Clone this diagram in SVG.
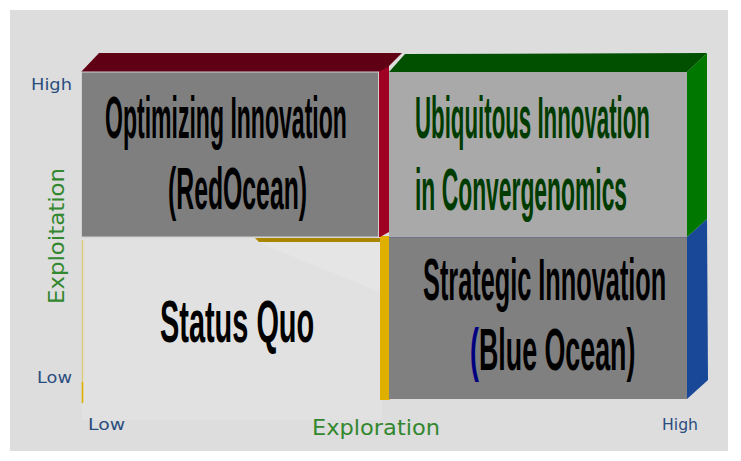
<svg xmlns="http://www.w3.org/2000/svg" width="741" height="461" viewBox="0 0 741 461">
  <style>
    .big { font-family: "Liberation Sans", Arial, sans-serif; font-weight: bold; font-size: 60px; fill: #000; }
    .green { fill: #003c00; }
    .axis { font-family: "DejaVu Sans", Verdana, sans-serif; font-size: 15px; fill: #2b4d7e; }
    .title { font-family: "DejaVu Sans", Verdana, sans-serif; font-size: 21px; fill: #33872f; }
    .face { stroke: #d2d2d2; stroke-width: 1; }
  </style>

  <!-- backdrop -->
  <rect x="0" y="0" width="741" height="461" fill="#ffffff"/>
  <rect x="10" y="10" width="718" height="441" fill="#dddddd"/>

  <!-- Status Quo: low exploitation / low exploration -->
  <g id="status-quo">
    <rect x="82" y="238" width="300" height="182" fill="#e1e1e1"/>
    <polygon points="255,241 380,241 380,292" fill="#e5e5e5"/>
    <line x1="82.5" y1="240" x2="82.5" y2="403" stroke="#e0b000" stroke-width="1.5" opacity="0.45"/>
    <line x1="82.5" y1="382" x2="82.5" y2="403" stroke="#e0b000" stroke-width="1.5"/>
    <polygon points="255,238 380,238 380,242 259,242" fill="#a88600"/>
    <rect x="380" y="236" width="10" height="164" fill="#e0b000"/>
    <text class="big" font-size="58" transform="translate(160,342) scale(0.482,1)">Status Quo</text>
  </g>

  <!-- Optimizing Innovation (Red Ocean): high exploitation / low exploration -->
  <g id="red-ocean">
    <polygon points="378,72 389,61 389,232 380,237 378,237" fill="#a00022"/>
    <polygon points="81,72 99,53 402,53 388,67 378,72" fill="#5f0015"/>
    <rect class="face" x="81.5" y="72" width="297" height="165" fill="#7f7f7f"/>
    <text class="big" transform="translate(105,138) scale(0.384,1)">Optimizing Innovation</text>
    <text class="big" transform="translate(168,209) scale(0.413,1)">(RedOcean)</text>
  </g>

  <!-- Strategic Innovation (Blue Ocean): low exploitation / high exploration -->
  <g id="blue-ocean">
    <polygon points="687,237 707,219 708,380 687,399" fill="#1a4898"/>
    <rect x="389" y="237" width="298" height="162" fill="#808080"/>
    <line x1="389" y1="237.5" x2="687" y2="237.5" stroke="#6e7488" stroke-width="1"/>
    <text class="big" font-size="56" transform="translate(423,300) scale(0.422,1)">Strategic Innovation</text>
    <text class="big" font-size="56" transform="translate(470,370) scale(0.447,1)"><tspan fill="#000080">(</tspan>Blue Ocean)</text>
  </g>

  <!-- Ubiquitous Innovation: high exploitation / high exploration -->
  <g id="ubiquitous">
    <polygon points="687,72 707,53 707,219 687,237" fill="#007800"/>
    <polygon points="389,72 405,54 707,53 687,72" fill="#005000"/>
    <rect x="389" y="72" width="298" height="165" fill="#a9a9a9"/>
    <text class="big green" transform="translate(415,138) scale(0.371,1)">Ubiquitous Innovation</text>
    <text class="big green" transform="translate(415,210) scale(0.381,1)">in Convergenomics</text>
  </g>

  <!-- axes -->
  <g id="axes">
    <text class="axis" x="31" y="90" textLength="41" lengthAdjust="spacingAndGlyphs">High</text>
    <text class="axis" x="37" y="383" textLength="35" lengthAdjust="spacingAndGlyphs">Low</text>
    <text class="axis" x="88" y="430" textLength="37" lengthAdjust="spacingAndGlyphs">Low</text>
    <text class="axis" x="662" y="430" textLength="36" lengthAdjust="spacingAndGlyphs">High</text>
    <text class="title" x="312" y="435" textLength="128" lengthAdjust="spacingAndGlyphs">Exploration</text>
    <text class="title" transform="translate(64,304) rotate(-90)" x="0" y="0" textLength="136" lengthAdjust="spacingAndGlyphs">Exploitation</text>
  </g>
</svg>
